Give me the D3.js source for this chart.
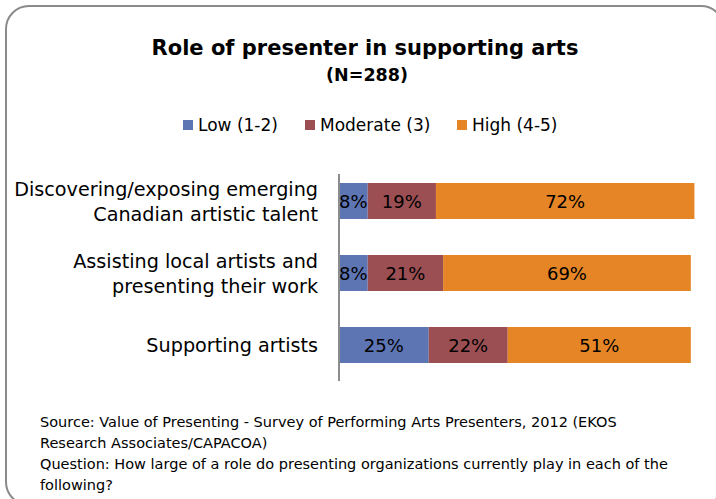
<!DOCTYPE html>
<html><head><meta charset="utf-8">
<script src="https://cdn.jsdelivr.net/npm/d3@7"></script>
<style>
html,body{margin:0;padding:0;background:#fff;}
svg{display:block;}
text{font-family:"DejaVu Sans",sans-serif;fill:#000;}
</style></head>
<body>
<svg id="c" width="716" height="499"></svg>
<script>
const categories = [
  ["Discovering/exposing emerging", "Canadian artistic talent"],
  ["Assisting local artists and", "presenting their work"],
  ["Supporting artists"]
];
const seriesNames = ["Low (1-2)", "Moderate (3)", "High (4-5)"];
const seriesColors = ["#5E75B4", "#9B4F53", "#E58526"];
const lowValues = [8, 8, 25];
const moderateValues = [19, 21, 22];
const highValues = [72, 69, 51];
const titleText = "Role of presenter in supporting arts";
const subtitleText = "(N=288)";
const footerLines = [
  "Source: Value of Presenting - Survey of Performing Arts Presenters, 2012 (EKOS",
  "Research Associates/CAPACOA)",
  "Question: How large of a role do presenting organizations currently play in each of the",
  "following?"
];

const svg = d3.select("#c");

// frame
svg.append("rect").attr("x", 6).attr("y", 6).attr("width", 718).attr("height", 499)
  .attr("rx", 23).attr("ry", 23).attr("fill", "none").attr("stroke", "#8a8a8a").attr("stroke-width", 2);

// title
svg.append("text").attr("x", 365).attr("y", 55).attr("text-anchor", "middle")
  .attr("font-weight", "bold").attr("font-size", 21).text(titleText);
svg.append("text").attr("x", 367).attr("y", 81).attr("text-anchor", "middle")
  .attr("font-weight", "bold").attr("font-size", 17.5).text(subtitleText);

// legend
const legendX = [183, 305, 457];
const lg = svg.append("g");
seriesNames.forEach((n, i) => {
  lg.append("rect").attr("x", legendX[i]).attr("y", 120).attr("width", 10).attr("height", 10).attr("fill", seriesColors[i]);
  lg.append("text").attr("x", legendX[i] + 15).attr("y", 131).attr("font-size", 17).text(n);
});

// scales
const x = d3.scaleLinear().domain([0, 100]).range([339, 698]);
const y = d3.scaleBand().domain(d3.range(categories.length)).range([165, 381]).paddingInner(0.5).paddingOuter(0.25);

const series = [lowValues, moderateValues, highValues];
const rows = categories.map((c, i) => {
  let acc = 0;
  return series.map((s, k) => { const v = s[i]; const seg = {i, k, x0: acc, x1: acc + v, v}; acc += v; return seg; });
});

const g = svg.append("g");
rows.forEach(r => r.forEach(seg => {
  g.append("rect").attr("x", x(seg.x0)).attr("y", y(seg.i)).attr("width", x(seg.x1) - x(seg.x0))
    .attr("height", y.bandwidth()).attr("fill", seriesColors[seg.k]);
  g.append("text").attr("x", (x(seg.x0) + x(seg.x1)) / 2).attr("y", y(seg.i) + y.bandwidth() / 2 + 6.5)
    .attr("text-anchor", "middle").attr("font-size", 18).text(seg.v + "%");
}));

// axis line
svg.append("line").attr("x1", 339).attr("x2", 339).attr("y1", 174).attr("y2", 381)
  .attr("stroke", "#8c8c8c").attr("stroke-width", 2);

// category labels
categories.forEach((lines, i) => {
  const cy = y(i) + y.bandwidth() / 2;
  const lh = 25;
  lines.forEach((t, j) => {
    svg.append("text").attr("x", 318).attr("text-anchor", "end")
      .attr("y", cy + 7 + (j - (lines.length - 1) / 2) * lh)
      .attr("font-size", 19.2).text(t);
  });
});

// footer
footerLines.forEach((t, j) => {
  svg.append("text").attr("x", 40).attr("y", 427 + j * 21).attr("font-size", 14.5).text(t);
});
</script>
</body></html>
